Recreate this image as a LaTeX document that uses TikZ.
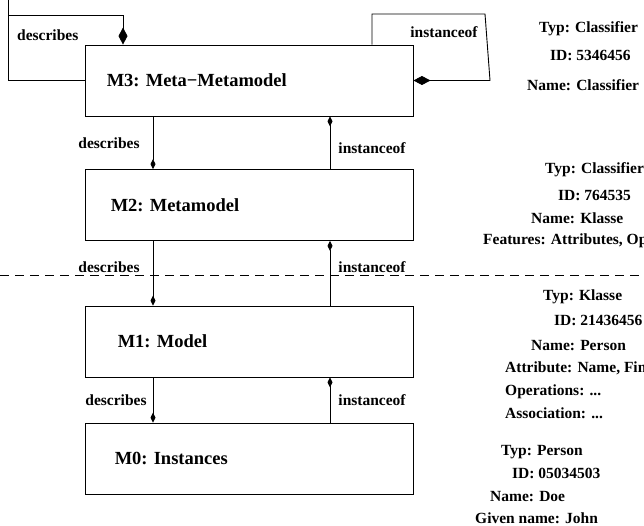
\documentclass[tikz,border=0pt]{standalone}
\usepackage{fontspec}
\setmainfont{Liberation Serif}
\usetikzlibrary{positioning,arrows.meta}

\begin{document}
\begin{tikzpicture}[x=1pt,y=-1pt,
  layer/.style={draw, line width=0.9pt, minimum width=328pt, minimum height=71pt, inner sep=0pt},
  layername/.style={font=\fontsize{18.5}{20}\selectfont\bfseries, inner sep=0pt, anchor=west},
  tag/.style={font=\fontsize{15.5}{17}\selectfont\bfseries, inner sep=0pt},
  info/.style={font=\fontsize{15.5}{17}\selectfont\bfseries, inner sep=0pt, anchor=west},
  rel/.style={line width=0.9pt, -{Diamond[length=10pt,width=5pt]}},
  selfrel/.style={line width=0.9pt, -{Diamond[length=17pt,width=9pt]}}]
  \useasboundingbox (0,0) rectangle (644,526);

  % the four layers
  \node[layer] (m3) at (249,80.5) {};
  \node[layer] (m2) at (249,205) {};
  \node[layer] (m1) at (249,341.5) {};
  \node[layer] (m0) at (249,458.5) {};
  \node[layername, right=22pt of m3.west] (m3name) {M3: Meta−Metamodel};
  \node[layername, right=26pt of m2.west] (m2name) {M2: Metamodel};
  \node[layername, right=33pt of m1.west] (m1name) {M1: Model};
  \node[layername, right=30pt of m0.west] (m0name) {M0: Instances};

  % self relations of M3
  \draw[line width=0.9pt] (m3.west) -| (8,0);
  \draw[selfrel] (8,15) -| (m3.north -| 123,0);
  \node[tag, anchor=west] (dloop) at (17,35) {describes};
  \draw[selfrel] (m3.north -| 372,0) |- (485,14) -- (490,80.5) -- (m3.east);
  \node[tag] (iloop) at (444,32) {instanceof};

  % describes / instanceof between the layers
  \coordinate (dx) at (153,0);
  \coordinate (ix) at (330,0);
  \draw[rel] (dx |- m3.south) -- (dx |- m2.north) node[tag, pos=0.5, left=13pt] {describes};
  \draw[rel] (dx |- m2.south) -- (dx |- m1.north) node[tag, pos=0.4, left=13pt] {describes};
  \draw[rel] (dx |- m1.south) -- (dx |- m0.north) node[tag, pos=0.5, left=6pt] {describes};
  \draw[rel] (ix |- m2.north) -- (ix |- m3.south) node[tag, pos=0.4, right=8pt] {instanceof};
  \draw[rel] (ix |- m1.north) -- (ix |- m2.south) node[tag, pos=0.6, right=8pt] {instanceof};
  \draw[rel] (ix |- m0.north) -- (ix |- m1.south) node[tag, pos=0.5, right=8pt] {instanceof};

  % border between language and model level
  \draw[line width=0.8pt, dash pattern=on 9pt off 6pt] (0,275) -- (644,275);

  % example objects
  \node[info] (c1) at (539,29) {Typ: Classifier};
  \node[info] (c2) at (550,55) {ID: 5346456};
  \node[info] (c3) at (527,85) {Name: Classifier};

  \node[info] (k1) at (545,170) {Typ: Classifier};
  \node[info] (k2) at (558,195) {ID: 764535};
  \node[info] (k3) at (531,218) {Name: Klasse};
  \node[info] (k4) at (483,241) {Features: Attributes, Operations};

  \node[info] (p1) at (543,297) {Typ: Klasse};
  \node[info] (p2) at (554,320) {ID: 21436456};
  \node[info] (p3) at (531,346) {Name: Person};
  \node[info] (p4) at (505,368) {Attribute: Name, Fin};
  \node[info] (p5) at (505,392) {Operations: ...};
  \node[info] (p6) at (505,413) {Association: ...};

  \node[info] (j1) at (501,452) {Typ: Person};
  \node[info] (j2) at (512,473) {ID: 05034503};
  \node[info] (j3) at (490,497) {Name: Doe};
  \node[info] (j4) at (475,518) {Given name: John};
\end{tikzpicture}
\end{document}
